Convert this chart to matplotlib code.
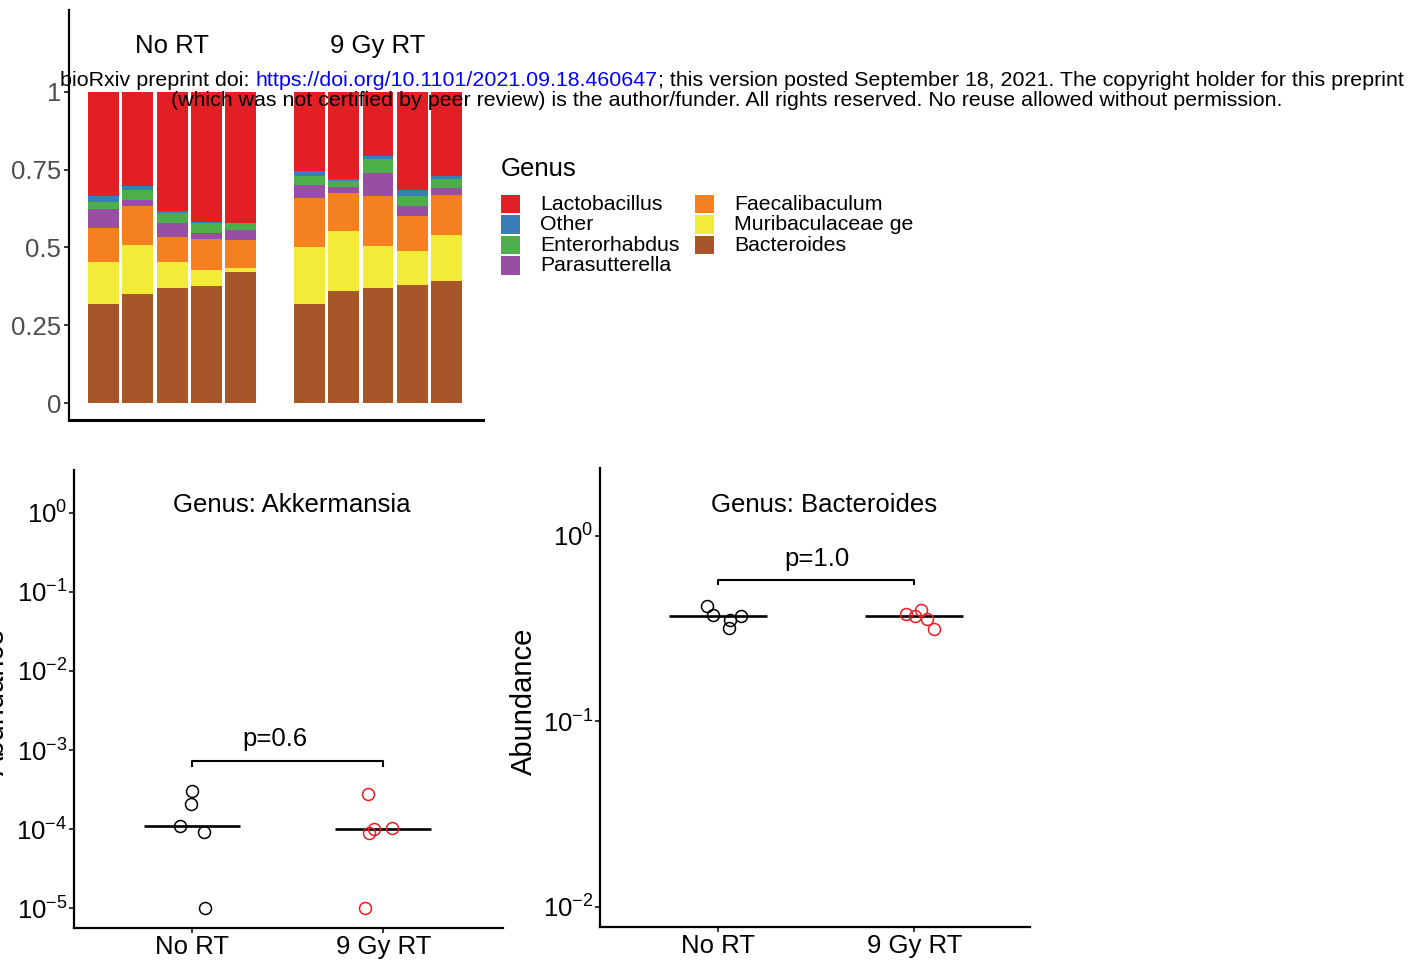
import numpy as np
import matplotlib.pyplot as plt
from matplotlib.patches import Rectangle

plt.rcParams['font.family'] = ['Liberation Sans', 'DejaVu Sans']
plt.rcParams['mathtext.fontset'] = 'custom'
plt.rcParams['mathtext.rm'] = 'Liberation Sans'
plt.rcParams['mathtext.default'] = 'regular'

W, H = 1418, 964  # canvas in pixels (dpi 100)

# %% ---- data ------------------------------------------------------------
groups = ['No RT', '9 Gy RT']

# stacked from bottom to top; five mice per group
genera = ['Bacteroides', 'Muribaculaceae ge', 'Faecalibaculum',
          'Parasutterella', 'Enterorhabdus', 'Other', 'Lactobacillus']
bacteroides = [0.318, 0.350, 0.369, 0.376, 0.420, 0.318, 0.360, 0.369, 0.379, 0.392]
muribaculaceae = [0.134, 0.157, 0.083, 0.051, 0.013, 0.183, 0.192, 0.135, 0.109, 0.147]
faecalibaculum = [0.112, 0.125, 0.080, 0.099, 0.090, 0.157, 0.122, 0.160, 0.112, 0.131]
parasutterella = [0.061, 0.022, 0.048, 0.022, 0.032, 0.042, 0.019, 0.074, 0.032, 0.022]
enterorhabdus = [0.022, 0.032, 0.032, 0.032, 0.022, 0.029, 0.022, 0.045, 0.032, 0.029]
other = [0.019, 0.010, 0.006, 0.001, 0.001, 0.016, 0.006, 0.010, 0.022, 0.010]
lactobacillus = [0.334, 0.304, 0.382, 0.419, 0.422, 0.255, 0.279, 0.207, 0.314, 0.269]
sample_group = [0, 0, 0, 0, 0, 1, 1, 1, 1, 1]

genus_colors = {
    'Lactobacillus': '#E31F26',
    'Other': '#377EB8',
    'Enterorhabdus': '#4DAF4A',
    'Parasutterella': '#984EA3',
    'Faecalibaculum': '#F58020',
    'Muribaculaceae ge': '#F2EB37',
    'Bacteroides': '#A65628',
}
legend_order = ['Lactobacillus', 'Other', 'Enterorhabdus', 'Parasutterella',
                'Faecalibaculum', 'Muribaculaceae ge', 'Bacteroides']

# Akkermansia abundance per mouse + horizontal jitter used in the dot plot
akk_no_rt = [3.03e-4, 2.06e-4, 1.08e-4, 9.1e-5, 1.0e-5]
akk_no_rt_jit = [0.0, -0.004, -0.061, 0.066, 0.069]
akk_rt = [2.75e-4, 9.9e-5, 9.0e-5, 1.04e-4, 1.0e-5]
akk_rt_jit = [-0.080, -0.049, -0.073, 0.044, -0.096]
akk_p = 'p=0.6'

bac_no_rt = [0.419, 0.374, 0.352, 0.317, 0.368]
bac_no_rt_jit = [-0.056, -0.029, 0.060, 0.055, 0.116]
bac_rt = [0.380, 0.368, 0.396, 0.357, 0.315]
bac_rt_jit = [-0.044, 0.004, 0.034, 0.063, 0.099]
bac_p = 'p=1.0'

RED = '#EC1C24'
FS = 18.5


def px_axes(fig, left, top, right, bottom):
    return fig.add_axes([left / W, 1 - bottom / H, (right - left) / W, (bottom - top) / H])


def classic(ax):
    for s in ['top', 'right']:
        ax.spines[s].set_visible(False)
    for s in ['left', 'bottom']:
        ax.spines[s].set_linewidth(1.6)
    ax.tick_params(length=3.8, width=1.1, labelsize=FS, pad=2)


fig = plt.figure(figsize=(W / 100, H / 100), dpi=100)

# %% ---- stacked relative abundance --------------------------------------
ax = px_axes(fig, 69, 10, 483, 420)
classic(ax)
xpos = np.array([i % 5 + 6 * g for i, g in enumerate(sample_group)])
stack = [bacteroides, muribaculaceae, faecalibaculum, parasutterella,
         enterorhabdus, other, lactobacillus]
bottom = np.zeros(len(xpos))
for name, vals in zip(genera, stack):
    ax.bar(xpos, vals, bottom=bottom, width=0.9, color=genus_colors[name],
           linewidth=0)
    bottom += np.array(vals)
ax.set_xlim(-1.006, 11.06)
ax.set_ylim(-0.0545, 1.263)
ax.set_xticks([])
ax.spines['bottom'].set_linewidth(2.2)
ax.set_yticks([0, 0.25, 0.5, 0.75, 1])
ax.set_yticklabels(['0', '0.25', '0.5', '0.75', '1'], color='#4D4D4D')
for g, label in enumerate(groups):
    ax.text(2 + 6 * g, 1.147, label, ha='center', va='center', fontsize=FS)


# %% ---- dot plots --------------------------------------------------------
def dot_panel(ax, a, a_jit, b, b_jit, pval, title, ylim, yticks, brk, ptxt, ttl):
    classic(ax)
    ax.set_yscale('log')
    for k, (vals, jit, col) in enumerate([(a, a_jit, 'black'), (b, b_jit, RED)]):
        ax.plot(np.array(jit) + k + 1, vals, 'o', mfc='none', mec=col,
                ms=8.6, mew=1.1, zorder=3)
        ax.hlines(np.median(vals), k + 1 - 0.25, k + 1 + 0.25, color='black',
                  lw=1.9, zorder=2)
    y, ylo = brk
    ax.plot([1, 1, 2, 2], [ylo, y, y, ylo], color='black', lw=1.5)
    ax.text(ptxt[0], ptxt[1], pval, ha='center', va='center', fontsize=FS)
    ax.text(ttl[0], ttl[1], title, ha='center', va='center', fontsize=FS)
    ax.set_ylim(*ylim)
    ax.set_yticks([10.0 ** e for e in yticks])
    ax.set_yticklabels([r'$10^{%d}$' % e for e in yticks])
    ax.yaxis.set_minor_locator(plt.NullLocator())
    ax.set_xticks([1, 2])
    ax.set_xticklabels(groups)
    ax.tick_params(axis='x', pad=1.5)
    ax.tick_params(axis='y', pad=1)


ax1 = px_axes(fig, 74, 470, 503, 928)
ax1.set_xlim(0.386, 2.625)
dot_panel(ax1, akk_no_rt, akk_no_rt_jit, akk_rt, akk_rt_jit, akk_p,
          'Genus: Akkermansia', (10 ** -5.25, 10 ** 0.54), [0, -1, -2, -3, -4, -5],
          (7.26e-4, 6.3e-4), (1.435, 1.38e-3), (1.522, 1.24))

ax2 = px_axes(fig, 600, 468, 1030, 926.7)
ax2.set_xlim(0.396, 2.59)
dot_panel(ax2, bac_no_rt, bac_no_rt_jit, bac_rt, bac_rt_jit, bac_p,
          'Genus: Bacteroides', (10 ** -2.108, 10 ** 0.365), [0, -1, -2],
          (0.577, 0.548), (1.502, 0.75), (1.538, 1.47))

# shared y title, the left copy runs past the canvas edge
fig.text(-4 / W, 1 - 701 / H, 'Abundance', rotation=90, ha='center',
         va='center', fontsize=21)
fig.text(524 / W, 1 - 701 / H, 'Abundance', rotation=90, ha='center',
         va='center', fontsize=21)

# %% ---- legend + preprint header (pixel overlay) -------------------------
ov = fig.add_axes([0, 0, 1, 1])
ov.set_xlim(0, W)
ov.set_ylim(H, 0)
ov.axis('off')

ov.text(501, 169, 'Genus', ha='left', va='center', fontsize=FS)
for i, name in enumerate(legend_order):
    col, row = divmod(i, 4)
    kx = 501 + 194 * col
    ky = 195 + 20.4 * row
    ov.add_patch(Rectangle((kx, ky), 19, 18.3, color=genus_colors[name], lw=0))
    ov.text(kx + 39, ky + 9.6, name, ha='left', va='center', fontsize=15.3)

HFS = 15.4
t1 = ov.text(60, 80, 'bioRxiv preprint doi: ', ha='left', va='center', fontsize=HFS)
t2 = ov.annotate('https://doi.org/10.1101/2021.09.18.460647', xy=(1, 0),
                 xycoords=t1, ha='left', va='bottom', fontsize=HFS, color='#0000FF')
ov.annotate('; this version posted September 18, 2021. The copyright holder for this preprint',
            xy=(1, 0), xycoords=t2, ha='left', va='bottom', fontsize=HFS)
ov.text(727, 101, '(which was not certified by peer review) is the author/funder. '
        'All rights reserved. No reuse allowed without permission.',
        ha='center', va='center', fontsize=HFS)

fig.savefig('out.png', dpi=100)
